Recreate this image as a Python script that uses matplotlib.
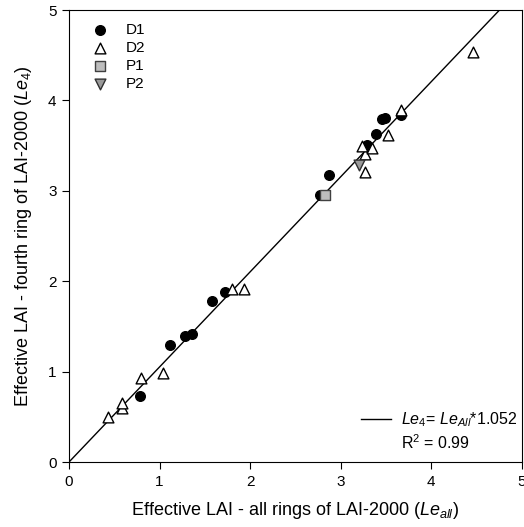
import numpy as np
import matplotlib.pyplot as plt
from matplotlib.lines import Line2D

plt.rcParams['font.family'] = ['Liberation Sans', 'DejaVu Sans']
plt.rcParams['mathtext.fontset'] = 'custom'
plt.rcParams['mathtext.rm'] = 'Liberation Sans'
plt.rcParams['mathtext.it'] = 'Liberation Sans:italic'

# data (Le_all, Le_4)
d1_x = [0.78, 1.12, 1.28, 1.36, 1.575, 1.72, 2.77, 2.87, 3.29, 3.39, 3.46, 3.49, 3.67]
d1_y = [0.73, 1.29, 1.39, 1.42, 1.78, 1.88, 2.95, 3.18, 3.51, 3.63, 3.79, 3.80, 3.84]
d2_x = [0.43, 0.585, 0.59, 0.80, 1.04, 1.80, 1.935, 3.27, 3.27, 3.24, 3.34, 3.52, 3.67, 4.46]
d2_y = [0.50, 0.60, 0.65, 0.93, 0.98, 1.91, 1.91, 3.21, 3.41, 3.50, 3.47, 3.62, 3.89, 4.54]
p1_x = [2.83]
p1_y = [2.95]
p2_x = [3.20]
p2_y = [3.29]

slope = 1.052
r2 = 0.99

fig = plt.figure(figsize=(5.24, 5.27), dpi=100)
ax = fig.add_axes([0.1317, 0.1233, 0.8643, 0.8577])

xl = np.linspace(0, 5, 50)
ax.plot(xl, slope * xl, color='black', lw=1.0, zorder=1)

ax.scatter(d1_x, d1_y, s=48, marker='o', facecolor='black', edgecolor='black', zorder=3, label='D1')
ax.scatter(d2_x, d2_y, s=60, marker='^', facecolor='white', edgecolor='black', lw=1.0, zorder=4, label='D2')
ax.scatter(p1_x, p1_y, s=45, marker='s', facecolor='#bdbdbd', edgecolor='#404040', lw=1.0, zorder=4, label='P1')
ax.scatter(p2_x, p2_y, s=60, marker='v', facecolor='#9a9a9a', edgecolor='#303030', lw=1.0, zorder=4, label='P2')

ax.set_xlim(0, 5)
ax.set_ylim(0, 5)
ax.set_xticks([0, 1, 2, 3, 4, 5])
ax.set_yticks([0, 1, 2, 3, 4, 5])
ax.tick_params(direction='out', length=5, labelsize=11, pad=4, top=False, right=False)
ax.set_xlabel(r'Effective LAI - all rings of LAI-2000 ($\mathit{Le}_{\mathit{all}}$)', fontsize=13, labelpad=8)
ax.set_ylabel(r'Effective LAI - fourth ring of LAI-2000 ($\mathit{Le}_{\mathit{4}}$)', fontsize=13, labelpad=10)

leg = ax.legend(loc='upper left', bbox_to_anchor=(0.043, 0.972), frameon=False, fontsize=11,
                handletextpad=0.95, labelspacing=0.26, borderaxespad=0, borderpad=0,
                handlelength=1.5)
ax.add_artist(leg)

fit_handle = Line2D([], [], color='black', lw=1.0)
blank = Line2D([], [], color='none')
ax.legend([fit_handle, blank],
          [r'$\mathit{Le}_{\mathit{4}}$= $\mathit{Le}_{\mathit{All}}$*1.052', 'R$^2$ = %.2f' % r2],
          loc='lower right', bbox_to_anchor=(0.99, 0.022), frameon=False, fontsize=11.5,
          handlelength=1.9, handletextpad=0.6, labelspacing=0.25, borderaxespad=0, borderpad=0)

fig.savefig('out.png', dpi=100)
